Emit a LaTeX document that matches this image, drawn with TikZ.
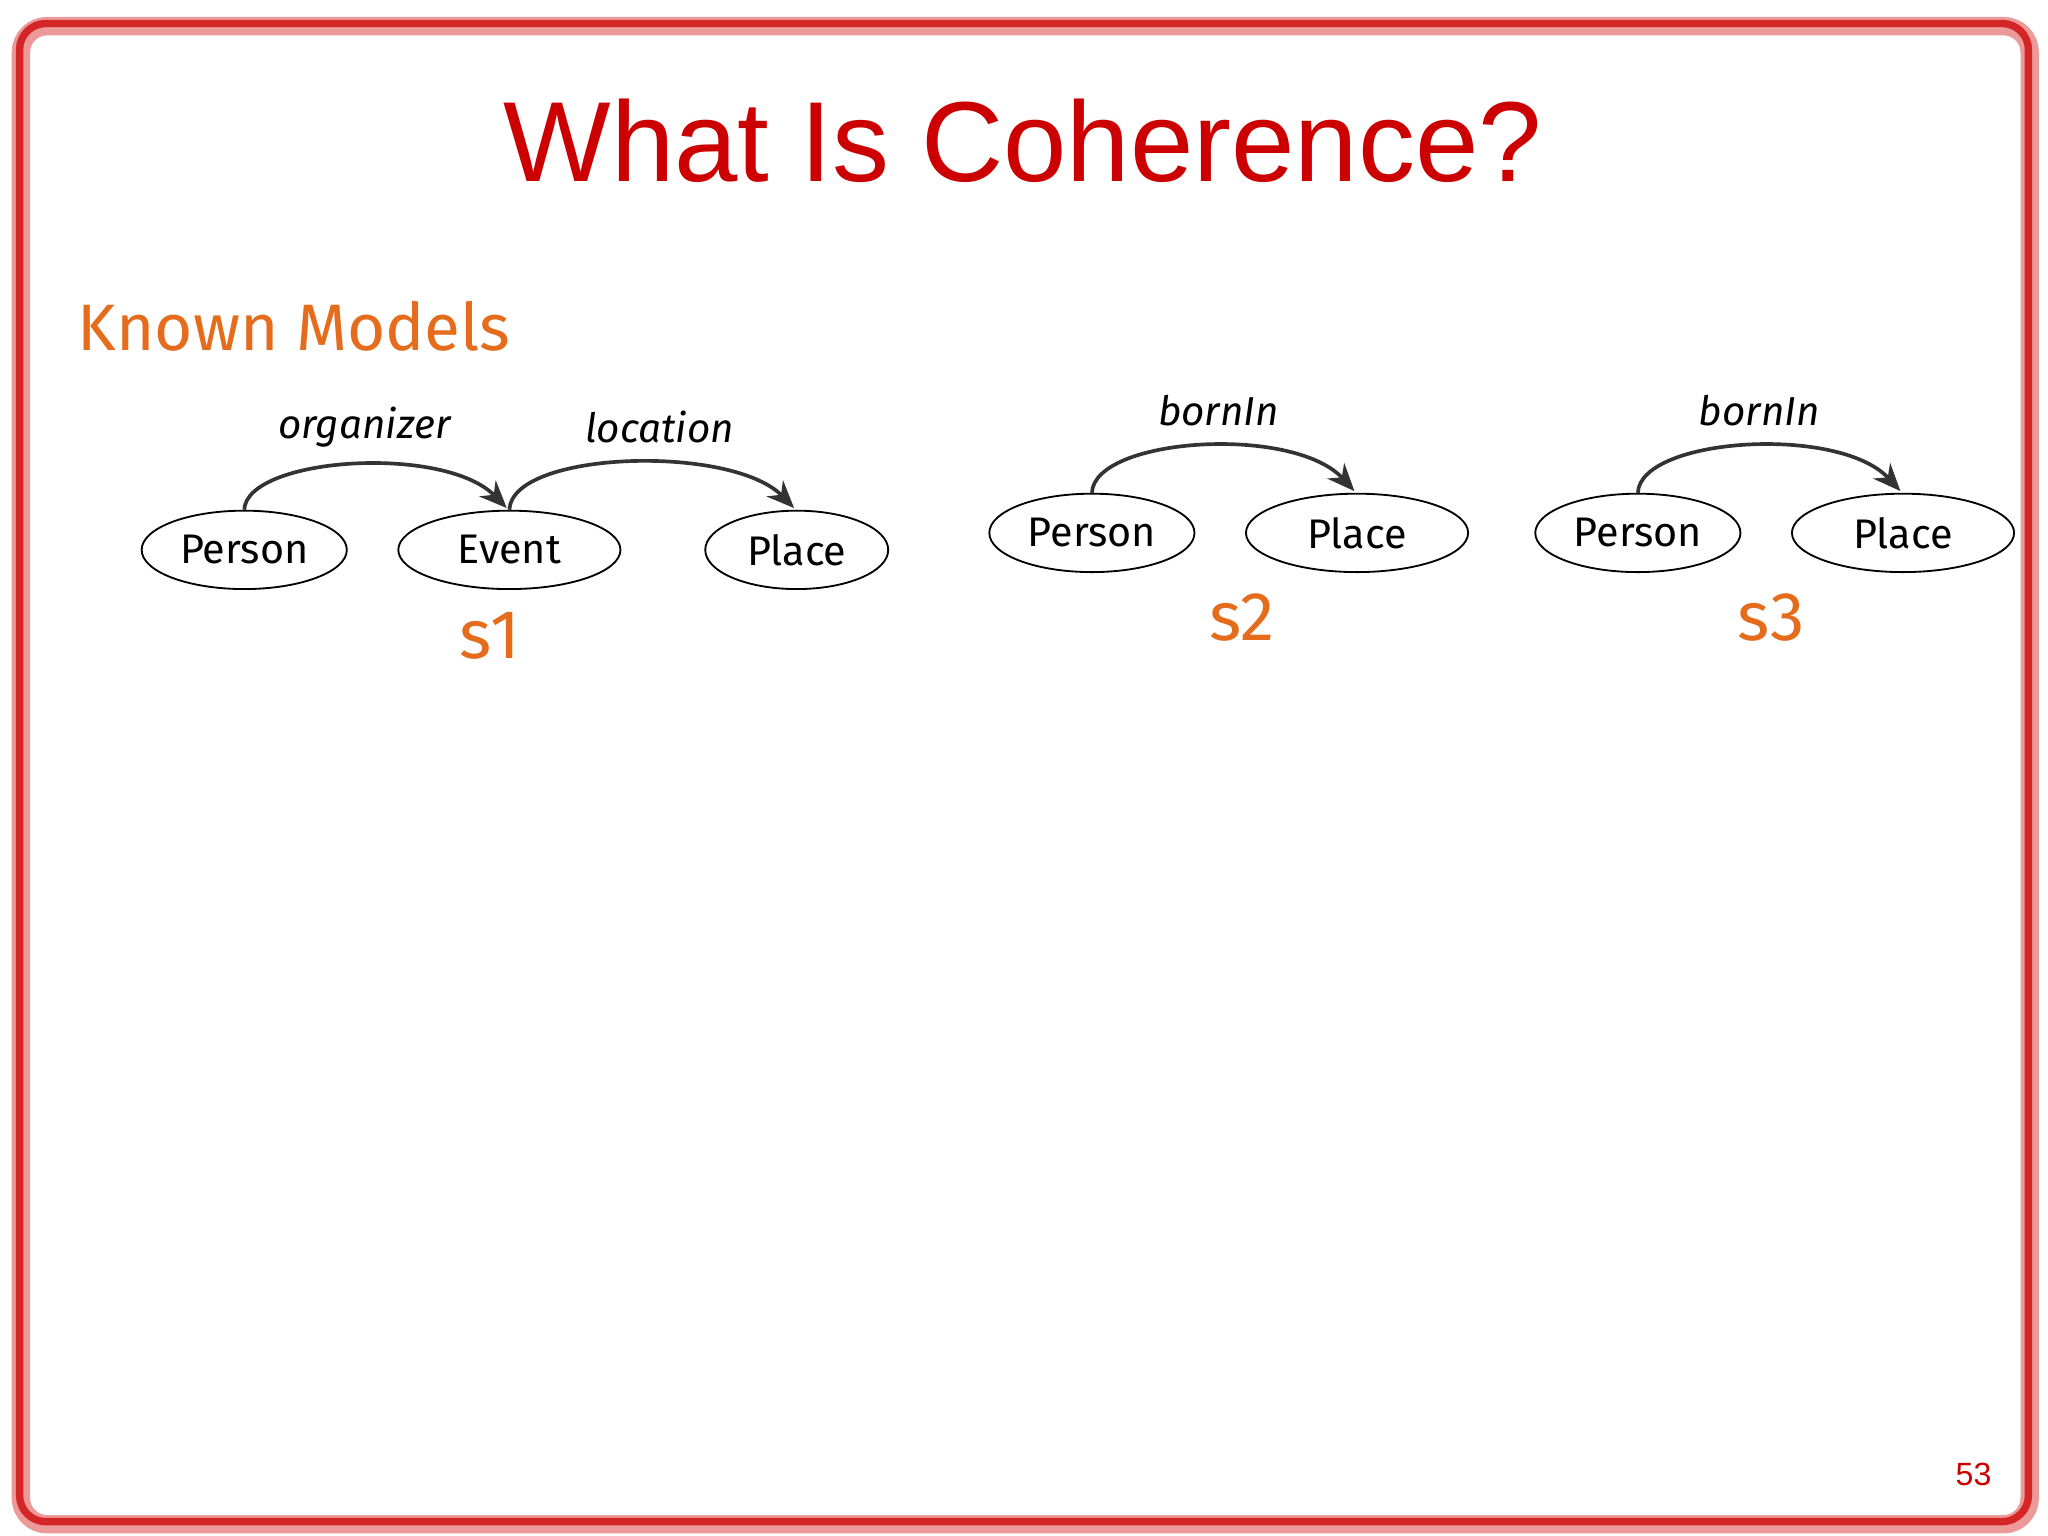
\documentclass[tikz,border=0pt]{standalone}
\usepackage{fontspec}
\setmainfont{Fira Sans}
\newfontfamily\titlefont{Liberation Sans}
\usetikzlibrary{shapes.geometric,arrows.meta}
\definecolor{slidered}{HTML}{CC0000}
\definecolor{orangec}{HTML}{E46C1C}
\definecolor{edgec}{HTML}{333333}
\tikzset{
  ent/.style={ellipse,draw=black,thin,minimum height=0.6cm,inner sep=0pt,font=\fontsize{9pt}{11pt}\selectfont},
  rel/.style={font=\itshape\fontsize{8.8pt}{11pt}\selectfont},
  lab/.style={text=orangec,font=\fontsize{15pt}{18pt}\selectfont},
  arr/.style={draw=edgec,thick,-{Stealth[length=6pt,width=5pt]}}
}
\begin{document}
\begin{tikzpicture}[x=0.01cm,y=-0.01cm]
\useasboundingbox (0,0) rectangle (1568,1176);
\fill[white] (0,0) rectangle (1568,1176);
\draw[slidered!40,line width=4pt,rounded corners=0.2cm] (16,20) rectangle (1554,1167);
\draw[slidered!85,line width=1.6pt,rounded corners=0.2cm] (15,18) rectangle (1553,1165);
\node[text=slidered,font=\titlefont\fontsize{24.8pt}{30pt}\selectfont] (title) at (783,108) {What Is Coherence?};
\node[anchor=west,text=orangec,font=\fontsize{14.3pt}{18pt}\selectfont] (km) at (47,250) {Known Models};
% s1
\node[ent,minimum width=1.57cm] (p1) at (187,421) {Person};
\node[ent,minimum width=1.70cm] (e1) at (390,421) {Event};
\node[ent,minimum width=1.40cm] (pl1) at (610,421) {Place};
\draw[arr] (p1.north) .. controls (189,350) and (340,340) .. (388,389);
\draw[arr] (e1.north) .. controls (392,345) and (560,340) .. (608,389);
\node[rel] (r1) at (279,327) {organizer};
\node[rel] (r2) at (505,327) {location};
\node[lab] (s1) at (375,487) {s1};
% s2
\node[ent,minimum width=1.57cm] (p2) at (836,408) {Person};
\node[ent,minimum width=1.70cm] (pl2) at (1039,408) {Place};
\draw[arr] (p2.north) .. controls (838,335) and (990,325) .. (1037,376);
\node[rel] (r3) at (933,314) {bornIn};
\node[lab] (s2) at (951,473) {s2};
% s3
\node[ent,minimum width=1.57cm] (p3) at (1254,408) {Person};
\node[ent,minimum width=1.70cm] (pl3) at (1457,408) {Place};
\draw[arr] (p3.north) .. controls (1256,335) and (1408,325) .. (1455,376);
\node[rel] (r4) at (1347,314) {bornIn};
\node[lab] (s3) at (1356,473) {s3};
\node[text=slidered,font=\titlefont\fontsize{7pt}{8pt}\selectfont] (pg) at (1511,1129) {53};
\end{tikzpicture}
\end{document}
